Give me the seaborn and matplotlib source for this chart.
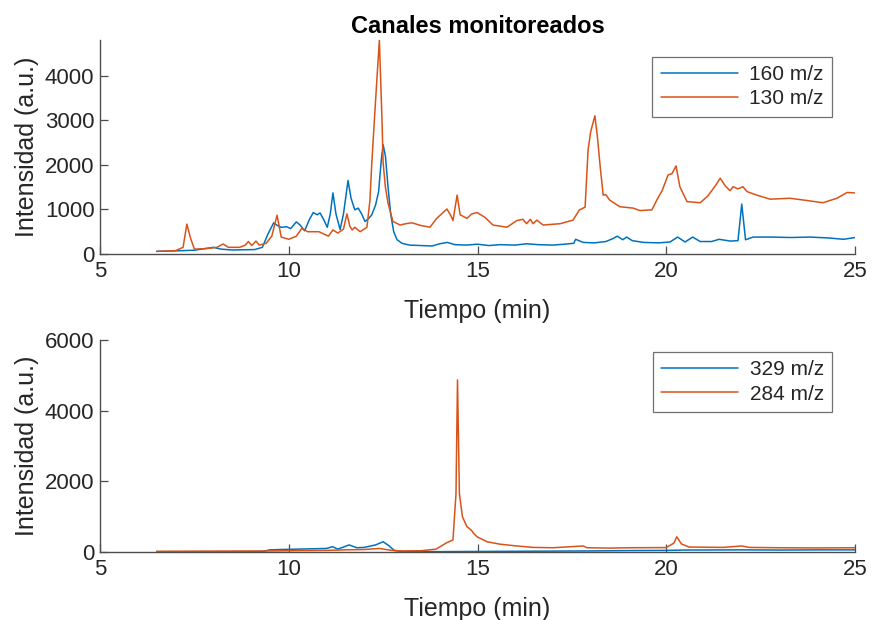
import matplotlib
matplotlib.use("Agg")
import matplotlib.pyplot as plt
import numpy as np
import pandas as pd
import seaborn as sns

# Monitored ion channels: (retention time in min, intensity in a.u.)
ch160 = [(6.5, 60), (7.0, 70), (7.5, 85), (8.0, 150), (8.2, 110), (8.5, 90), (8.8, 95),
         (9.1, 100), (9.3, 150), (9.45, 450), (9.6, 700), (9.7, 640), (9.8, 600), (9.95, 610),
         (10.05, 570), (10.2, 720), (10.3, 650), (10.42, 520), (10.55, 780), (10.65, 930),
         (10.75, 880), (10.83, 920), (10.92, 780), (11.02, 600), (11.1, 900), (11.17, 1370),
         (11.25, 900), (11.36, 550), (11.45, 900), (11.57, 1650), (11.65, 1250), (11.75, 990),
         (11.84, 1030), (11.93, 900), (12.02, 730), (12.12, 800), (12.2, 880), (12.3, 1100),
         (12.38, 1400), (12.45, 2100), (12.5, 2450), (12.56, 2200), (12.63, 1500), (12.7, 900),
         (12.78, 500), (12.87, 320), (13.0, 240), (13.2, 200), (13.5, 190), (13.8, 180),
         (14.0, 230), (14.2, 260), (14.4, 210), (14.7, 200), (15.0, 220), (15.3, 190),
         (15.6, 210), (16.0, 200), (16.3, 230), (16.6, 210), (17.0, 200), (17.3, 220),
         (17.55, 240), (17.6, 330), (17.8, 260), (18.1, 250), (18.4, 280), (18.6, 350),
         (18.7, 400), (18.85, 320), (18.95, 380), (19.1, 300), (19.4, 260), (19.8, 250),
         (20.1, 270), (20.3, 380), (20.5, 270), (20.7, 380), (20.9, 280), (21.2, 280),
         (21.4, 330), (21.7, 290), (21.9, 300), (22.0, 1120), (22.1, 320), (22.3, 380),
         (22.8, 380), (23.3, 370), (23.8, 380), (24.3, 360), (24.7, 330), (25.0, 370)]

ch130 = [(6.5, 60), (7.0, 75), (7.2, 150), (7.3, 670), (7.4, 350), (7.5, 110), (7.8, 120),
         (8.1, 150), (8.26, 225), (8.4, 150), (8.7, 150), (8.85, 200), (8.93, 280), (9.02, 190),
         (9.13, 290), (9.22, 200), (9.4, 240), (9.55, 400), (9.69, 870), (9.8, 380), (10.0, 330),
         (10.2, 400), (10.35, 580), (10.5, 500), (10.8, 500), (11.05, 400), (11.17, 540),
         (11.3, 470), (11.45, 560), (11.54, 900), (11.62, 620), (11.68, 540), (11.75, 600),
         (11.89, 500), (12.07, 600), (12.15, 1200), (12.2, 2040), (12.28, 3170), (12.4, 4800),
         (12.47, 3000), (12.5, 2040), (12.56, 1500), (12.63, 1140), (12.76, 730), (12.95, 650),
         (13.1, 680), (13.26, 700), (13.5, 640), (13.74, 600), (13.92, 800), (14.05, 900),
         (14.19, 1010), (14.3, 850), (14.35, 750), (14.46, 1320), (14.54, 880), (14.72, 800),
         (14.85, 900), (14.99, 930), (15.2, 820), (15.41, 650), (15.78, 600), (16.04, 750),
         (16.2, 780), (16.3, 680), (16.4, 780), (16.47, 680), (16.57, 760), (16.74, 650),
         (17.19, 680), (17.53, 760), (17.7, 990), (17.85, 1050), (17.93, 2340), (18.0, 2750),
         (18.11, 3100), (18.18, 2600), (18.25, 1960), (18.33, 1320), (18.4, 1330), (18.5, 1210),
         (18.77, 1060), (19.12, 1030), (19.3, 975), (19.62, 990), (19.75, 1210), (19.89, 1420),
         (20.05, 1775), (20.15, 1800), (20.26, 1975), (20.36, 1510), (20.55, 1175), (20.9, 1150),
         (21.1, 1300), (21.3, 1530), (21.43, 1700), (21.56, 1530), (21.69, 1420), (21.77, 1510),
         (21.9, 1460), (22.03, 1510), (22.14, 1400), (22.4, 1320), (22.75, 1230), (23.28, 1250),
         (23.73, 1200), (24.15, 1150), (24.52, 1250), (24.79, 1380), (25.0, 1370)]

ch329 = [(6.5, 5), (8.0, 8), (9.3, 10), (9.5, 60), (9.8, 70), (10.2, 80), (10.6, 90),
         (11.0, 100), (11.16, 150), (11.3, 80), (11.6, 200), (11.8, 120), (12.0, 130),
         (12.3, 200), (12.5, 290), (12.65, 180), (12.8, 40), (13.0, 15), (14.0, 10), (15.0, 15),
         (16.0, 20), (17.0, 25), (18.0, 30), (19.0, 40), (20.0, 45), (20.5, 55), (22.0, 60),
         (23.0, 55), (24.0, 60), (25.0, 60)]

ch284 = [(6.5, 20), (8.0, 25), (9.5, 30), (10.0, 35), (11.0, 45), (11.5, 60), (12.0, 70),
         (12.4, 100), (12.7, 50), (13.0, 30), (13.5, 35), (13.9, 80), (14.19, 265), (14.35, 340),
         (14.43, 1650), (14.47, 4870), (14.52, 1660), (14.6, 1000), (14.72, 715), (14.8, 650),
         (14.85, 600), (14.9, 520), (14.99, 430), (15.25, 290), (15.6, 220), (15.95, 180),
         (16.47, 130), (17.0, 120), (17.8, 170), (17.9, 120), (18.5, 110), (19.0, 120),
         (20.0, 125), (20.2, 250), (20.28, 430), (20.4, 230), (20.6, 140), (21.5, 130),
         (22.0, 170), (22.2, 130), (23.0, 120), (24.0, 115), (25.0, 120)]

top_labels = ["160 m/z", "130 m/z"]
bottom_labels = ["329 m/z", "284 m/z"]
x_ticks = [5, 10, 15, 20, 25]
top_yticks = [0, 1000, 2000, 3000, 4000]
bottom_yticks = [0, 2000, 4000, 6000]

BLUE = "#0072BD"
ORANGE = "#D95319"
AXC = "#262626"
SPINE = "#4d4d4d"

sns.set_theme(style="white")
plt.rcParams["font.family"] = ["Liberation Sans", "DejaVu Sans"]


def frame(series, labels):
    parts = []
    for data, lab in zip(series, labels):
        arr = np.asarray(data, dtype=float)
        parts.append(pd.DataFrame({"t": arr[:, 0], "I": arr[:, 1], "canal": lab}))
    return pd.concat(parts, ignore_index=True)


fig = plt.figure(figsize=(8.72, 6.2), dpi=100)
ax1 = fig.add_axes([0.1147, 0.5903, 0.8658, 0.3452])
ax2 = fig.add_axes([0.1147, 0.1097, 0.8658, 0.3419])

panels = [
    (ax1, frame([ch160, ch130], top_labels), top_labels, (0, 4800), top_yticks, 0.921),
    (ax2, frame([ch329, ch284], bottom_labels), bottom_labels, (0, 6000), bottom_yticks, 0.943),
]

for ax, df, labels, ylim, yticks, ly in panels:
    sns.lineplot(data=df, x="t", y="I", hue="canal", hue_order=labels,
                 palette=[BLUE, ORANGE], sort=False, estimator=None,
                 linewidth=1.1, ax=ax)
    ax.set_xlim(5, 25)
    ax.set_ylim(*ylim)
    ax.set_xticks(x_ticks)
    ax.set_yticks(yticks)
    ax.set_xlabel("Tiempo (min)", fontsize=18, color=AXC, labelpad=12)
    ax.set_ylabel("Intensidad (a.u.)", fontsize=18, color=AXC, labelpad=4)
    ax.tick_params(direction="in", length=6, width=0.9, colors=SPINE,
                   labelcolor=AXC, labelsize=16, bottom=True, left=True, pad=4)
    ax.tick_params(axis="x", pad=5)
    for side in ("top", "right"):
        ax.spines[side].set_visible(False)
    for side in ("left", "bottom"):
        ax.spines[side].set_color(SPINE)
        ax.spines[side].set_linewidth(1.0)
    leg = ax.legend(loc="upper right", bbox_to_anchor=(0.9695, ly), borderaxespad=0,
                    fontsize=15, frameon=True, fancybox=False, handlelength=3.7,
                    handletextpad=0.55, borderpad=0.4, labelspacing=0.25, title=None)
    leg.get_frame().set_edgecolor(SPINE)
    leg.get_frame().set_linewidth(0.9)
    for line in leg.get_lines():
        line.set_linewidth(1.1)

ax1.set_title("Canales monitoreados", fontsize=17, fontweight="bold", color="black", pad=5)

fig.savefig("out.png", dpi=100)
